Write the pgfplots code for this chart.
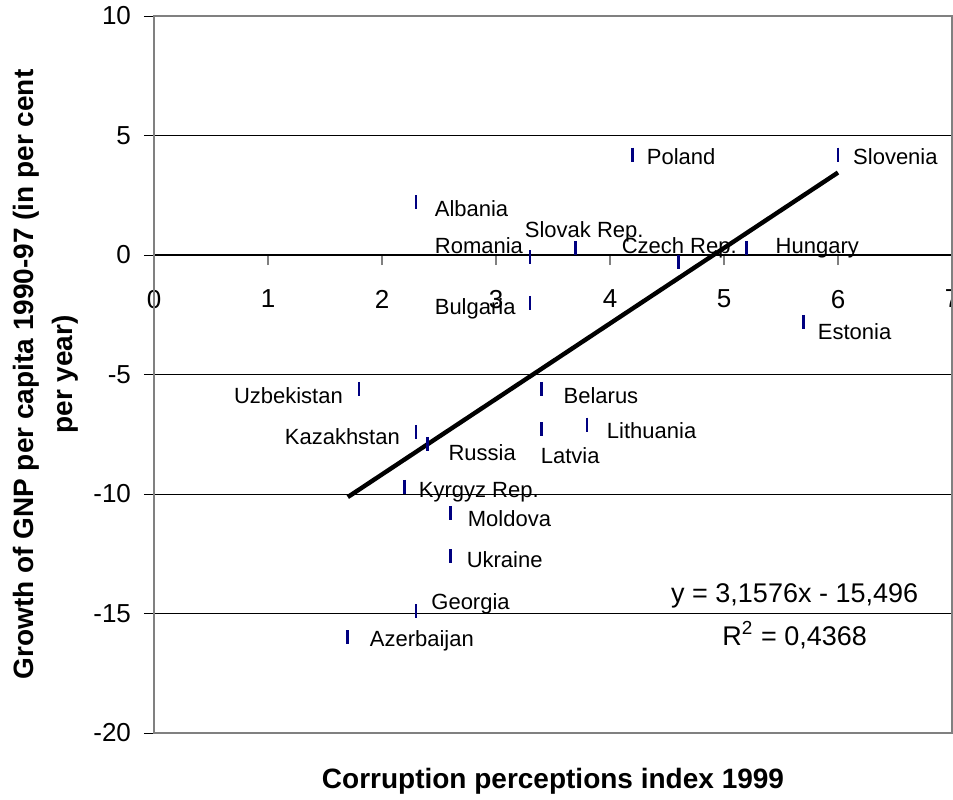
\documentclass[border=0pt]{standalone}
\usepackage{fontspec}
\setmainfont{Liberation Sans}
\usepackage{pgfplots}
\pgfplotsset{compat=1.18}
\definecolor{pointblue}{HTML}{000080}
\definecolor{framegray}{HTML}{808080}

\begin{document}
\begin{tikzpicture}
\begin{axis}[
  at={(0,0)}, anchor=south west,
  scale only axis, width=399pt, height=358.5pt,
  xmin=0, xmax=7, ymin=-20, ymax=10,
  axis x line=middle, axis y line=left,
  axis line style={-},
  x axis line style={black, line width=0.6pt},
  y axis line style={framegray, line width=1pt},
  xtick={0,1,...,7}, ytick={-20,-15,...,10},
  hide obscured x ticks=false,
  ymajorgrids, grid style={black, line width=0.5pt},
  tick align=outside, major tick length=5pt,
  x tick style={framegray, line width=0.6pt},
  y tick style={black, line width=0.5pt},
  ticklabel style={font=\fontsize{13}{15}\selectfont},
  /pgf/number format/assume math mode=true,
  xticklabel style={yshift=-9pt},
  yticklabel style={xshift=-3pt},
  clip=false,
]
  \draw[framegray, line width=1pt] (rel axis cs:0,0) rectangle (rel axis cs:1,1);

  % trend line y = 3.1576x - 15.496
  \addplot[black, line width=2.2pt, no markers] coordinates {(1.7,-10.128) (6.0,3.450)};

  \addplot[only marks, mark=|, mark size=3.5pt, mark options={pointblue, line width=1.3pt}]
    coordinates {
      (6.0,4.2) (4.2,4.2) (2.3,2.2) (3.3,-0.1) (3.7,0.3) (4.6,-0.3) (5.2,0.3)
      (3.3,-2.0) (5.7,-2.8) (1.8,-5.6) (3.4,-5.6) (3.8,-7.1) (2.3,-7.4) (2.4,-7.9)
      (3.4,-7.3) (2.2,-9.7) (2.6,-10.8) (2.6,-12.6) (2.3,-14.9) (1.7,-16.0)
    };

  \begin{scope}[every node/.style={font=\fontsize{11}{13}\selectfont, inner sep=0pt}]
    \node[anchor=west] at (axis cs:6.13,4.10) {Slovenia};
    \node[anchor=west] at (axis cs:4.32,4.10) {Poland};
    \node[anchor=west] at (axis cs:2.46,1.92) {Albania};
    \node[anchor=east] at (axis cs:3.24,0.38) {Romania};
    \node[anchor=west] at (axis cs:3.25,0.96) {Slovak Rep.};
    \node[anchor=west] at (axis cs:4.10,0.29) {Czech Rep.};
    \node[anchor=west] at (axis cs:5.45,0.29) {Hungary};
    \node[anchor=west] at (axis cs:2.46,-2.26) {Bulgaria};
    \node[anchor=west] at (axis cs:5.82,-3.22) {Estonia};
    \node[anchor=east] at (axis cs:1.66,-5.90) {Uzbekistan};
    \node[anchor=west] at (axis cs:3.59,-5.90) {Belarus};
    \node[anchor=east] at (axis cs:2.16,-7.62) {Kazakhstan};
    \node[anchor=west] at (axis cs:2.58,-8.28) {Russia};
    \node[anchor=west] at (axis cs:3.39,-8.41) {Latvia};
    \node[anchor=west] at (axis cs:3.97,-7.36) {Lithuania};
    \node[anchor=west] at (axis cs:2.32,-9.92) {Kyrgyz Rep.};
    \node[anchor=west] at (axis cs:2.75,-11.05) {Moldova};
    \node[anchor=west] at (axis cs:2.74,-12.76) {Ukraine};
    \node[anchor=west] at (axis cs:2.43,-14.60) {Georgia};
    \node[anchor=west] at (axis cs:1.89,-16.15) {Azerbaijan};
  \end{scope}

  \node[font=\fontsize{13.5}{16}\selectfont, inner sep=0pt] at (axis cs:5.62,-14.27) {y = 3,1576x - 15,496};
  \node[font=\fontsize{13.5}{16}\selectfont, inner sep=0pt] at (axis cs:5.62,-15.90) {R\textsuperscript{2} = 0,4368};

  \node[font=\bfseries\fontsize{14}{16}\selectfont] at ([yshift=-24pt]rel axis cs:0.5,0) {Corruption perceptions index 1999};
  \node[font=\bfseries\fontsize{14}{19.5}\selectfont, rotate=90, align=center]
    at ([xshift=-54pt]rel axis cs:0,0.5) {Growth of GNP per capita 1990-97 (in per cent\\per year)};
\end{axis}
\pgfresetboundingbox
\path[use as bounding box] (-77pt,-33pt) rectangle (399.5pt,366.5pt);
\end{tikzpicture}
\end{document}
